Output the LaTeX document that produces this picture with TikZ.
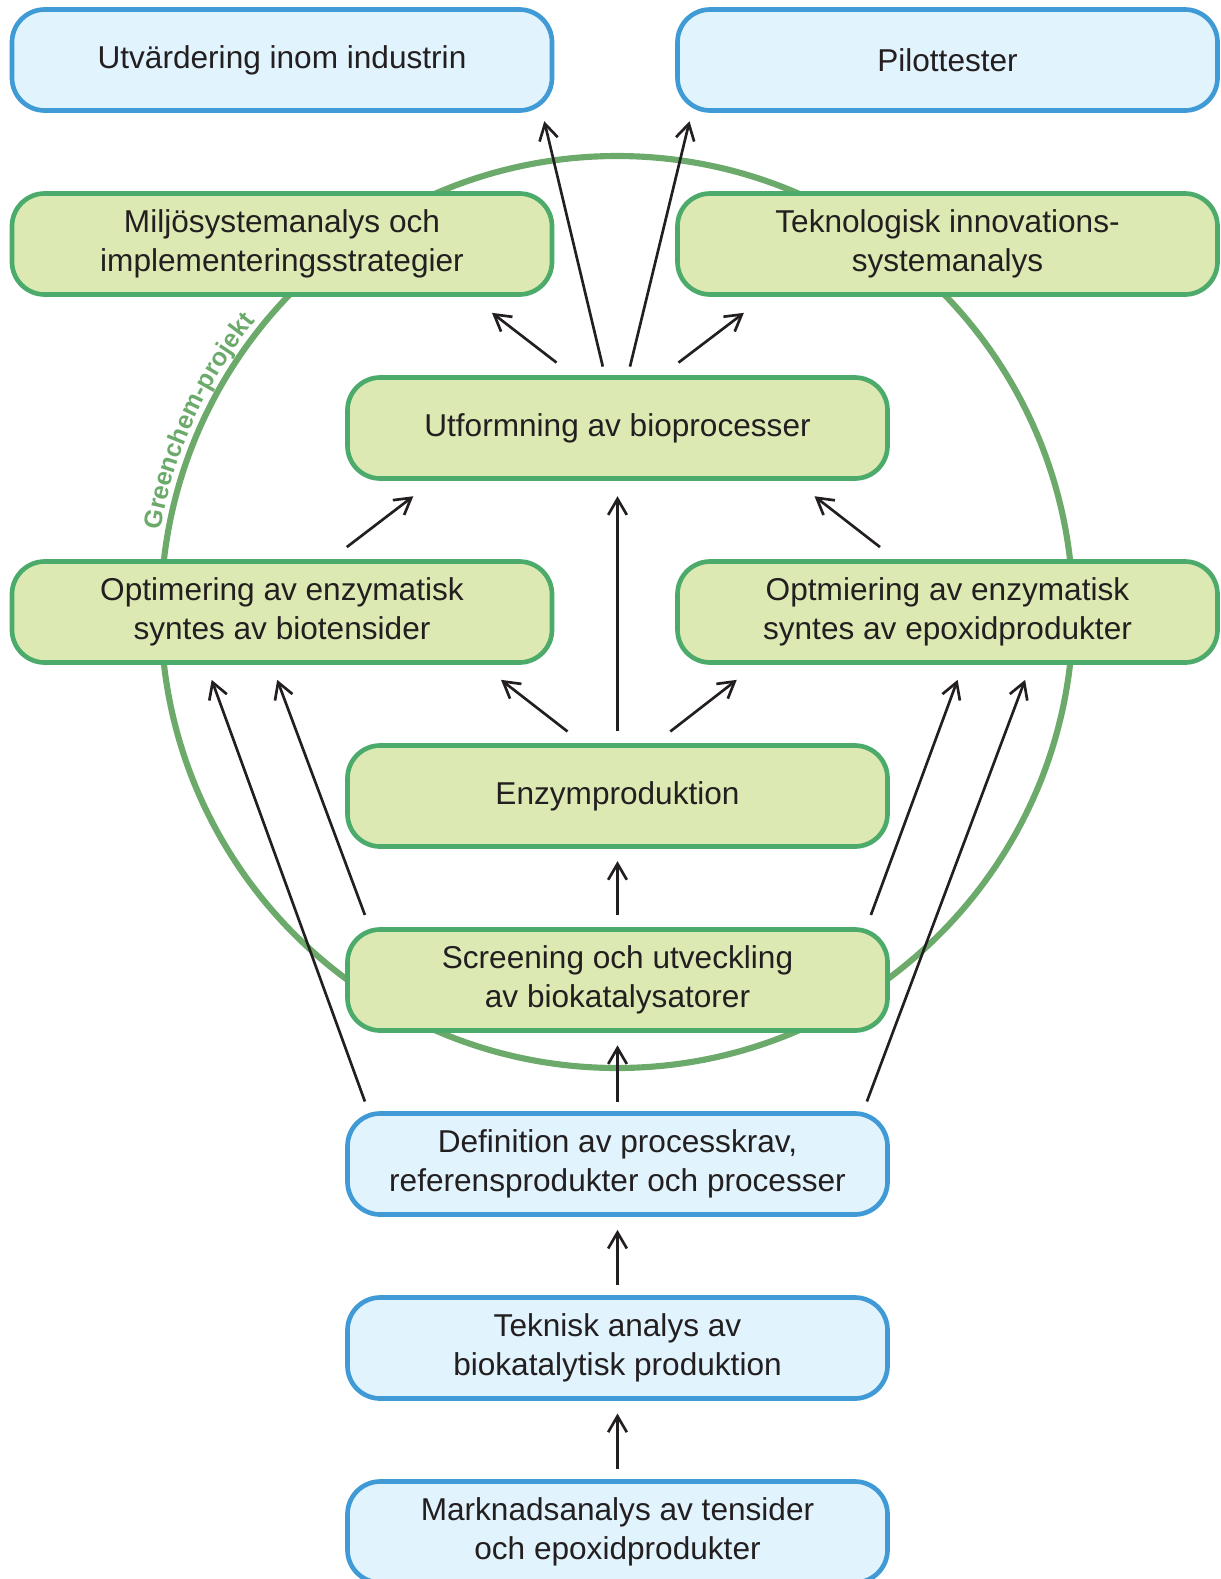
\documentclass[tikz,border=0pt]{standalone}
\usepackage{fontspec}
\setmainfont{Liberation Sans}
\usetikzlibrary{arrows.meta,calc,decorations.text}
\definecolor{gfill}{HTML}{DCE9B3}
\definecolor{gline}{HTML}{4CAB6A}
\definecolor{bfill}{HTML}{E1F3FC}
\definecolor{bline}{HTML}{3F9AD6}
\definecolor{circ}{HTML}{6BAA6B}
\definecolor{ink}{HTML}{231F20}
\begin{document}
\begin{tikzpicture}[x=0.75pt,y=-0.75pt,
  box/.style={rounded corners=24.5pt, line width=3.5pt, minimum width=405pt, minimum height=75.75pt,
    align=center, text=ink, font=\fontsize{23.7}{29.3}\selectfont, inner sep=0pt},
  gbox/.style={box, draw=gline, fill=gfill},
  bbox/.style={box, draw=bline, fill=bfill},
  arr/.style={draw=ink, line width=2pt, -{Straight Barb[length=12pt,width=14pt]}}]
\useasboundingbox (0,0) rectangle (1221,1579);
% circle
\draw[circ, line width=4.6pt] (617,612) circle [radius=456];
\path[decorate, decoration={text along path, text color=circ,
   text={|\fontsize{19}{19}\selectfont\bfseries|Greenchem-projekt}, text align=center}]
   (617,612) ++(179.5:464) arc[start angle=179.5, end angle=229.5, radius=464];
% boxes
\node[bbox] (utv) at (282,60) {Utvärdering inom industrin};
\node[bbox] (pil) at (947.5,60) {Pilottester};
\node[gbox] (milj) at (282,244) {Miljösystemanalys och\\implementeringsstrategier};
\node[gbox] (tek) at (947.5,244) {Teknologisk innovations-\\systemanalys};
\node[gbox] (utf) at (617.5,428) {Utformning av bioprocesser};
\node[gbox] (opt1) at (282,612) {Optimering av enzymatisk\\syntes av biotensider};
\node[gbox] (opt2) at (947.5,612) {Optmiering av enzymatisk\\syntes av epoxidprodukter};
\node[gbox] (enz) at (617.5,796) {Enzymproduktion};
\node[gbox] (scr) at (617.5,980) {Screening och utveckling\\av biokatalysatorer};
\node[bbox] (def) at (617.5,1164) {Definition av processkrav,\\referensprodukter och processer};
\node[bbox] (tka) at (617.5,1348) {Teknisk analys av\\biokatalytisk produktion};
\node[bbox] (mkn) at (617.5,1532) {Marknadsanalys av tensider\\och epoxidprodukter};
% arrows
\draw[arr] ($(utf.north)+(-61,-12.6)$) -- ($(milj.south)+(210,16)$);
\draw[arr] ($(utf.north)+(-14.7,-8.6)$) -- ($(utv.south)+(262.3,8.4)$);
\draw[arr] ($(utf.north)+(12.5,-8.6)$) -- ($(pil.south)+(-258,8.4)$);
\draw[arr] ($(utf.north)+(61,-12.6)$) -- ($(tek.south)+(-203.6,16)$);
\draw[arr] ($(opt1.north)+(64.8,-12.1)$) -- ($(utf.south)+(-204.2,15.4)$);
\draw[arr] ($(opt2.north)+(-67.5,-12.1)$) -- ($(utf.south)+(197,15.4)$);
\draw[arr] ($(enz.north)+(0,-11.7)$) -- ($(utf.south)+(0,15.4)$);
\draw[arr] ($(enz.north)+(-50,-11.7)$) -- ($(opt1.south)+(219,15)$);
\draw[arr] ($(enz.north)+(52.8,-11.7)$) -- ($(opt2.south)+(-210.7,15)$);
\draw[arr] ($(scr.north)+(0,-12.2)$) -- ($(enz.south)+(0,12.3)$);
\draw[arr] ($(scr.north)+(-252.6,-12.2)$) -- ($(opt1.south)+(-4.8,15)$);
\draw[arr] ($(scr.north)+(253.4,-12.2)$) -- ($(opt2.south)+(10.1,15)$);
\draw[arr] ($(def.north)+(-252.6,-9.7)$) -- ($(opt1.south)+(-70.3,15)$);
\draw[arr] ($(def.north)+(249.4,-9.7)$) -- ($(opt2.south)+(77.6,15)$);
\draw[arr] ($(def.north)+(0,-9.5)$) -- ($(scr.south)+(0,12.5)$);
\draw[arr] ($(tka.north)+(0,-10)$) -- ($(def.south)+(0,13)$);
\draw[arr] ($(mkn.north)+(0,-10)$) -- ($(tka.south)+(0,12.7)$);
\end{tikzpicture}
\end{document}
